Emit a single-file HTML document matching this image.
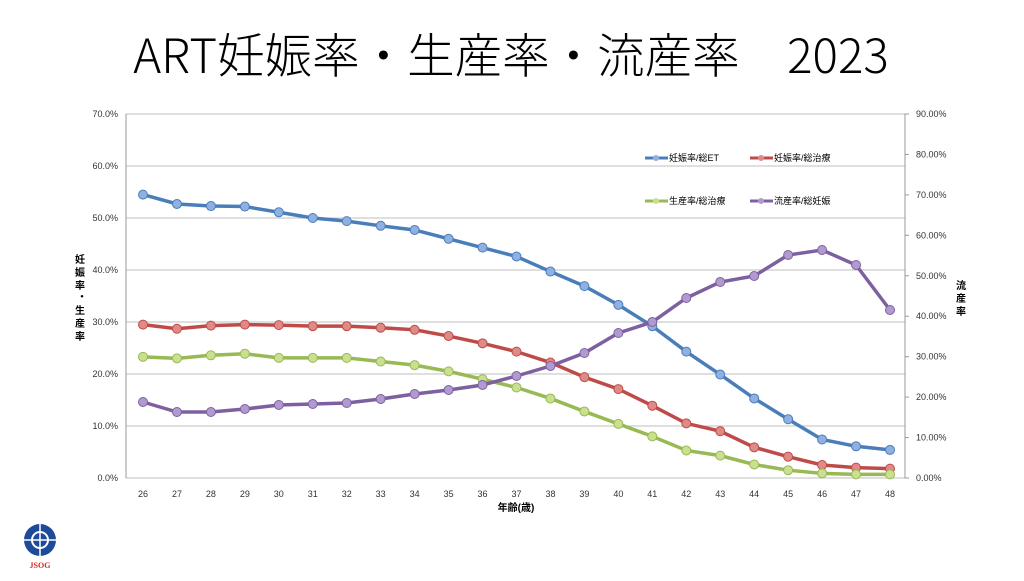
<!DOCTYPE html><html><head><meta charset="utf-8"><style>
body{margin:0;background:#fff;width:1024px;height:576px;overflow:hidden;font-family:"Liberation Sans","Noto Sans CJK JP",sans-serif}
</style></head><body>
<svg id="s" width="1024" height="576" xmlns="http://www.w3.org/2000/svg" font-family="Liberation Sans, Noto Sans CJK JP, sans-serif">
<text x="511" y="73" font-size="47.5" text-anchor="middle" fill="#000" font-family="Noto Sans CJK JP, sans-serif" font-weight="300">ART妊娠率・生産率・流産率　2023</text>
<g id="g"></g>
<g font-size="10" fill="#000" font-weight="bold">
<text x="75" y="263">妊</text><text x="75" y="276">娠</text><text x="75" y="289">率</text><text x="77" y="300">・</text><text x="75" y="314">生</text><text x="75" y="327">産</text><text x="75" y="340">率</text>
<text x="956" y="289">流</text><text x="956" y="302">産</text><text x="956" y="315">率</text>
<text x="516" y="511" text-anchor="middle">年齢(歳)</text>
</g>
<g font-size="9">
<line x1="645" y1="158" x2="668" y2="158" stroke="#4a7ebb" stroke-width="3"/><circle cx="656" cy="158" r="3" fill="#8fb0e0"/><text x="669" y="161">妊娠率/総ET</text>
<line x1="750" y1="158" x2="773" y2="158" stroke="#be4b48" stroke-width="3"/><circle cx="761" cy="158" r="3" fill="#e08a88"/><text x="774" y="161">妊娠率/総治療</text>
<line x1="645" y1="201" x2="668" y2="201" stroke="#98b954" stroke-width="3"/><circle cx="656" cy="201" r="3" fill="#c8e090"/><text x="669" y="204">生産率/総治療</text>
<line x1="750" y1="201" x2="773" y2="201" stroke="#7d60a0" stroke-width="3"/><circle cx="761" cy="201" r="3" fill="#b09ad0"/><text x="774" y="204">流産率/総妊娠</text>
</g>
<circle cx="40" cy="540" r="16" fill="#1e4a9a"/>
<circle cx="40" cy="540" r="8" fill="none" stroke="#fff" stroke-width="2"/>
<line x1="40" y1="524" x2="40" y2="556" stroke="#fff" stroke-width="1.5"/><line x1="24" y1="540" x2="56" y2="540" stroke="#fff" stroke-width="1.5"/>
<text x="40" y="568" font-size="8" font-weight="bold" fill="#e02020" text-anchor="middle" font-family="Liberation Serif,serif">JSOG</text>
</svg>
<script>
var g=document.getElementById('g'),h='';
var L=126,R=905,Y0=478;
for(var i=0;i<=7;i++){var y=Y0-i*52;h+='<line x1="'+L+'" y1="'+y+'" x2="'+R+'" y2="'+y+'" stroke="#bfbfbf" stroke-width="1"/>';
h+='<text x="118" y="'+(y+3)+'" font-size="9" text-anchor="end" fill="#333">'+(i*10)+'.0%</text>';}
for(var i=0;i<=9;i++){var y=Y0-i*364/9;h+='<line x1="'+R+'" y1="'+y+'" x2="'+(R+4)+'" y2="'+y+'" stroke="#999"/><text x="916" y="'+(y+3)+'" font-size="9" fill="#333">'+(i*10)+'.00%</text>';}
h+='<line x1="'+L+'" y1="114" x2="'+L+'" y2="'+Y0+'" stroke="#999"/><line x1="'+R+'" y1="114" x2="'+R+'" y2="'+Y0+'" stroke="#999"/>';
var st=(890-143)/22;
for(var i=0;i<23;i++){h+='<text x="'+(143+i*st)+'" y="497" font-size="9" text-anchor="middle" fill="#333">'+(26+i)+'</text>';}
function px(v){return Y0-v*5.2;}
var S=[
["#4a7ebb","#8fb0e0",[54.5,52.7,52.3,52.2,51.1,50.0,49.4,48.5,47.7,46.0,44.3,42.6,39.7,36.9,33.3,29.2,24.3,19.9,15.3,11.3,7.4,6.1,5.4].map(px)],
["#be4b48","#e08a88",[29.5,28.7,29.3,29.5,29.4,29.2,29.2,28.9,28.5,27.3,25.9,24.3,22.2,19.4,17.1,13.9,10.5,9.0,5.9,4.1,2.5,2.0,1.8].map(px)],
["#98b954","#c8e090",[23.3,23.0,23.6,23.9,23.1,23.1,23.1,22.4,21.7,20.5,19.0,17.4,15.3,12.8,10.4,8.0,5.3,4.3,2.6,1.5,0.9,0.7,0.7].map(px)],
["#7d60a0","#b09ad0",[402,412,412,409,405,404,403,399,394,390,385,376,366,353,333,322,298,282,276,255,250,265,310]]];
S.forEach(function(s){var p=s[2].map(function(y,i){return (143+i*st).toFixed(1)+','+y}).join(' ');
h+='<polyline points="'+p+'" fill="none" stroke="'+s[0]+'" stroke-width="3.5"/>';
s[2].forEach(function(y,i){h+='<circle cx="'+(143+i*st)+'" cy="'+y+'" r="4.5" fill="'+s[1]+'" stroke="'+s[0]+'" stroke-width="1"/>';});});
g.innerHTML=h;
</script>
</body></html>
